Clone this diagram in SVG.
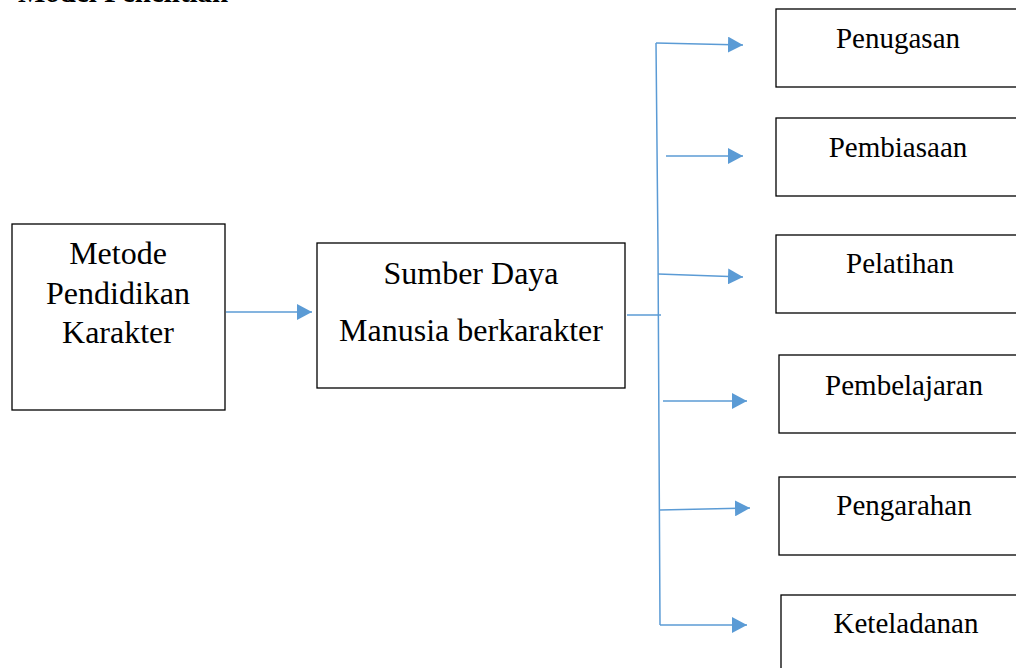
<svg xmlns="http://www.w3.org/2000/svg" width="1016" height="668" viewBox="0 0 1016 668">
<style>
.box{fill:#fff;stroke:#000;stroke-width:1.3}
.t{font-family:"Liberation Serif",serif;fill:#000;text-anchor:middle}
.big{font-size:32px}
.sm{font-size:29px}
.c{stroke:#5B9BD5;stroke-width:1.5;fill:none}
</style>
<defs>
<marker id="ah" markerUnits="userSpaceOnUse" markerWidth="16" markerHeight="16" refX="15" refY="8" orient="auto">
<path d="M0,0 L15,8 L0,16 Z" fill="#5B9BD5"/>
</marker>
</defs>
<rect width="1016" height="668" fill="#fff"/>
<text x="18" y="2" style="font-family:'Liberation Serif',serif;font-size:29px;font-weight:bold">Model Penelitian</text>
<g id="metode">
<rect class="box" x="12" y="224" width="213" height="186"/>
<text class="t big" x="118" y="264">Metode</text>
<text class="t big" x="118" y="304">Pendidikan</text>
<text class="t big" x="118" y="343">Karakter</text>
</g>
<g id="sdm">
<rect class="box" x="317" y="243" width="308" height="145"/>
<text class="t big" x="471" y="284">Sumber Daya</text>
<text class="t big" x="471" y="341">Manusia berkarakter</text>
</g>
<g id="penugasan">
<rect class="box" x="776" y="9" width="250" height="78"/>
<text class="t sm" x="898" y="48">Penugasan</text>
</g>
<g id="pembiasaan">
<rect class="box" x="776" y="118" width="250" height="78"/>
<text class="t sm" x="898" y="157">Pembiasaan</text>
</g>
<g id="pelatihan">
<rect class="box" x="776" y="235" width="250" height="78"/>
<text class="t sm" x="900" y="273">Pelatihan</text>
</g>
<g id="pembelajaran">
<rect class="box" x="779" y="355" width="250" height="78"/>
<text class="t sm" x="904" y="395">Pembelajaran</text>
</g>
<g id="pengarahan">
<rect class="box" x="779" y="477" width="250" height="78"/>
<text class="t sm" x="904" y="515">Pengarahan</text>
</g>
<g id="keteladanan">
<rect class="box" x="781" y="595" width="250" height="78"/>
<text class="t sm" x="906" y="633">Keteladanan</text>
</g>
<g id="connectors">
<line class="c" x1="226" y1="312" x2="312" y2="312" marker-end="url(#ah)"/>
<line class="c" x1="627" y1="315" x2="661" y2="315"/>
<polyline class="c" points="656,43 658,250 660,625"/>
<line class="c" x1="656" y1="43" x2="743" y2="45" marker-end="url(#ah)"/>
<line class="c" x1="666" y1="156" x2="743" y2="156" marker-end="url(#ah)"/>
<line class="c" x1="658" y1="274" x2="743" y2="277" marker-end="url(#ah)"/>
<line class="c" x1="663" y1="401" x2="747" y2="401" marker-end="url(#ah)"/>
<line class="c" x1="660" y1="510" x2="750" y2="508" marker-end="url(#ah)"/>
<line class="c" x1="660" y1="625" x2="747" y2="625" marker-end="url(#ah)"/>
</g>
</svg>
